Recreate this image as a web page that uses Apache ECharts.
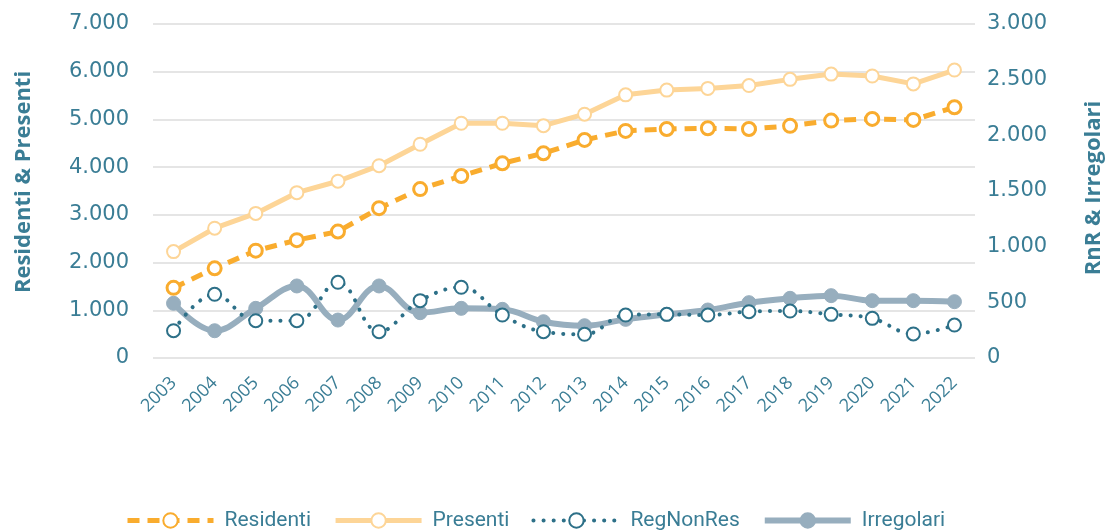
<!DOCTYPE html>
<html>
<head>
<meta charset="utf-8">
<script src="https://cdn.jsdelivr.net/npm/echarts@6/dist/echarts.min.js"></script>
<style>
html,body{margin:0;padding:0;background:#fff;}
#chart{width:1107px;height:532px;}
</style>
</head>
<body>
<div id="chart"></div>
<script>
const years = ['2003','2004','2005','2006','2007','2008','2009','2010','2011','2012','2013','2014','2015','2016','2017','2018','2019','2020','2021','2022'];
const residenti = [1470,1880,2250,2470,2650,3140,3540,3815,4080,4290,4570,4760,4800,4815,4800,4865,4975,5010,4990,5255];
const presenti = [2230,2720,3030,3465,3705,4030,4480,4920,4920,4870,5110,5515,5615,5650,5710,5840,5950,5910,5745,6035];
const regNonRes = [245,572,335,335,680,236,515,635,386,236,213,386,392,386,416,422,392,356,216,296];
const irregolari = [491,245,446,647,341,647,407,446,437,326,290,347,392,431,497,536,560,515,515,506];
const leftTicks = ['0','1.000','2.000','3.000','4.000','5.000','6.000','7.000'];
const rightTicks = ['0','500','1.000','1.500','2.000','2.500','3.000'];

const textColor = '#3A7D95';
const cResid = '#F9AC2E', cPres = '#FDD597', cReg = '#2D7088', cIrr = '#97AEBE';

const chart = echarts.init(document.getElementById('chart'));
chart.setOption({
  animation: false,
  backgroundColor: '#fff',
  grid: {left: 153, right: 132, top: 24, bottom: 174, containLabel: false, outerBoundsMode: 'none'},
  legend: {
    top: 505, left: 120,
    itemWidth: 86, itemHeight: 18, itemGap: 22,
    textStyle: {color: textColor, fontSize: 21, fontFamily: "'Roboto', sans-serif", padding: [0, 0, 0, 6]},
    data: [
      {name: 'Residenti', lineStyle: {width: 5}},
      {name: 'Presenti', lineStyle: {width: 5}},
      {name: 'RegNonRes', lineStyle: {width: 4}},
      {name: 'Irregolari', lineStyle: {width: 6}}
    ]
  },
  xAxis: {
    type: 'category', data: years, boundaryGap: true,
    axisLine: {show: false}, axisTick: {show: false},
    axisLabel: {rotate: 45, color: textColor, fontSize: 18, fontFamily: "'Open Sans', sans-serif", margin: 22, interval: 0}
  },
  yAxis: [
    {
      type: 'value', min: 0, max: 7000, interval: 1000, position: 'left',
      name: 'Residenti & Presenti', nameLocation: 'middle', nameGap: 118, nameRotate: 90,
      nameTextStyle: {color: textColor, fontSize: 22, fontWeight: 'bold', fontFamily: "'Open Sans', sans-serif", padding: [0, 0, 0, 18]},
      axisLabel: {color: textColor, fontSize: 21, fontFamily: "'DejaVu Sans', sans-serif", margin: 24,
        formatter: v => leftTicks[Math.round(v/1000)]},
      splitLine: {lineStyle: {color: '#DDDDDD', width: 1.5}},
      axisLine: {show: false}, axisTick: {show: false}
    },
    {
      type: 'value', min: 0, max: 3000, interval: 500, position: 'right',
      name: 'RnR & Irregolari', nameLocation: 'middle', nameGap: 108, nameRotate: 90,
      nameTextStyle: {color: textColor, fontSize: 22, fontWeight: 'bold', fontFamily: "'Open Sans', sans-serif", padding: [0, 0, 0, 6]},
      axisLabel: {color: textColor, fontSize: 21, fontFamily: "'DejaVu Sans', sans-serif", margin: 12, align: 'left',
        formatter: v => rightTicks[Math.round(v/500)]},
      splitLine: {show: false},
      axisLine: {show: false}, axisTick: {show: false}
    }
  ],
  series: [
    {
      name: 'Residenti', type: 'line', yAxisIndex: 0, data: residenti, z: 4,
      symbol: 'circle', symbolSize: 13,
      lineStyle: {color: cResid, width: 5, type: [12, 8]},
      itemStyle: {color: '#fff', borderColor: cResid, borderWidth: 3}
    },
    {
      name: 'Presenti', type: 'line', yAxisIndex: 0, data: presenti, z: 3,
      symbol: 'circle', symbolSize: 13,
      lineStyle: {color: cPres, width: 5},
      itemStyle: {color: '#fff', borderColor: cPres, borderWidth: 2}
    },
    {
      name: 'RegNonRes', type: 'line', yAxisIndex: 1, data: regNonRes, z: 5, smooth: 0.4,
      symbol: 'circle', symbolSize: 13,
      lineStyle: {color: cReg, width: 4, type: [0.1, 10], cap: 'round'},
      itemStyle: {color: '#fff', borderColor: cReg, borderWidth: 2}
    },
    {
      name: 'Irregolari', type: 'line', yAxisIndex: 1, data: irregolari, z: 2, smooth: 0.4,
      symbol: 'circle', symbolSize: 14,
      lineStyle: {color: cIrr, width: 6},
      itemStyle: {color: cIrr, borderColor: cIrr, borderWidth: 1}
    }
  ]
});
</script>
</body>
</html>
